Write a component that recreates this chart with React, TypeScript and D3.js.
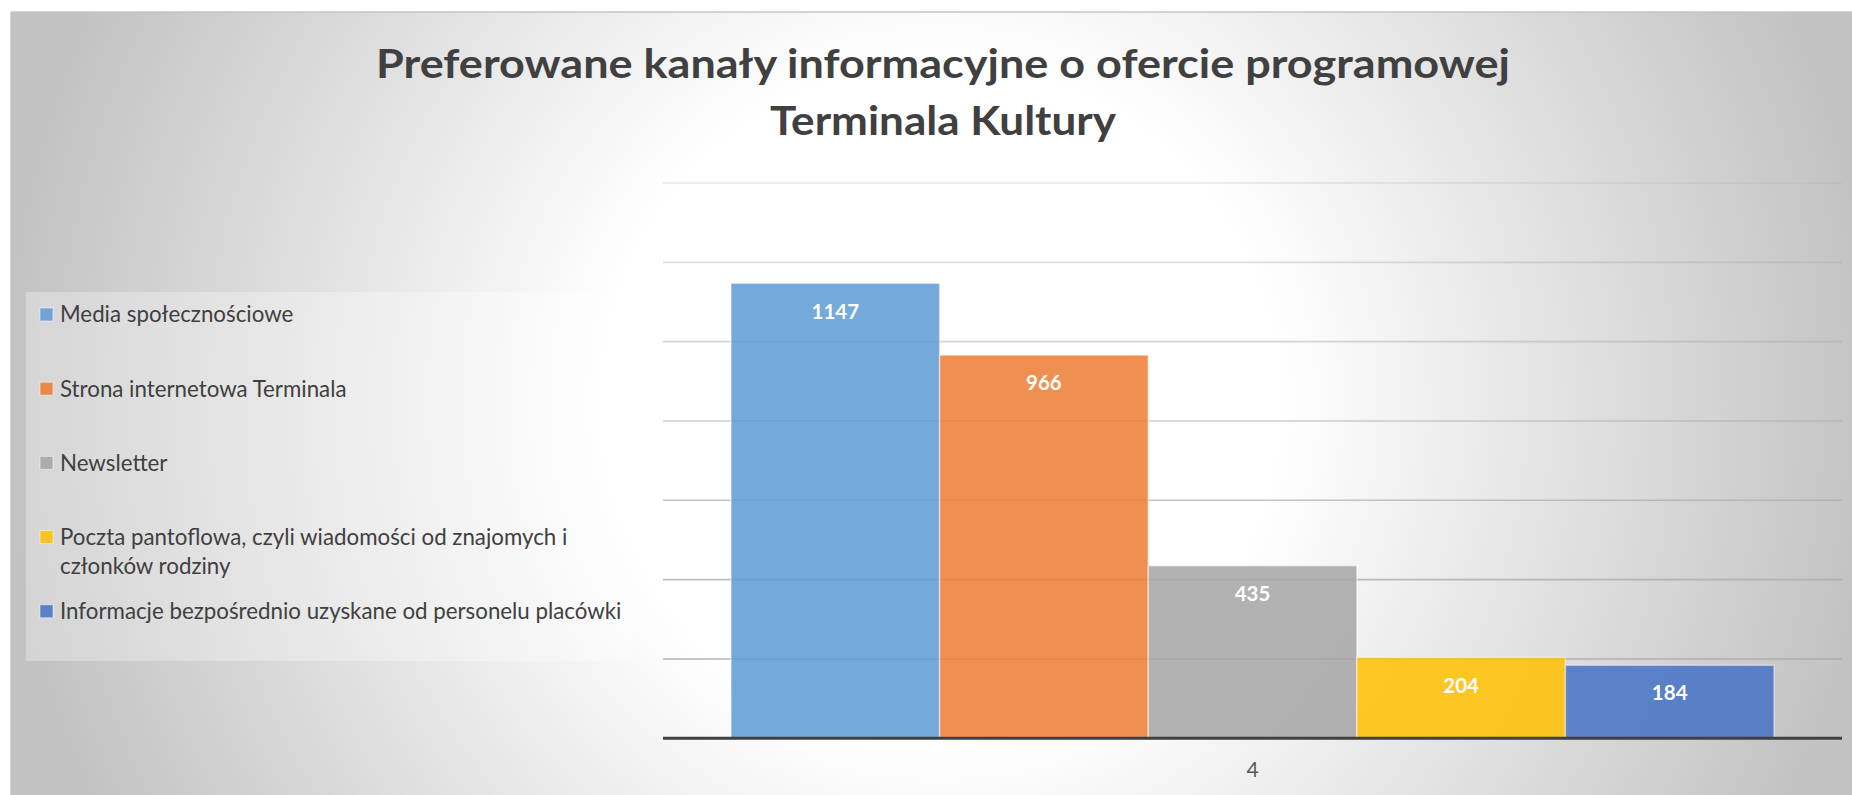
import React from "react";
import * as d3 from "d3";

const titleLines = ["Preferowane kanały informacyjne o ofercie programowej", "Terminala Kultury"];
const categories = ["4"];
const seriesNames = [
  "Media społecznościowe",
  "Strona internetowa Terminala",
  "Newsletter",
  "Poczta pantoflowa, czyli wiadomości od znajomych i członków rodziny",
  "Informacje bezpośrednio uzyskane od personelu placówki",
];
const legendLines = [
  ["Media społecznościowe"],
  ["Strona internetowa Terminala"],
  ["Newsletter"],
  ["Poczta pantoflowa, czyli wiadomości od znajomych i", "członków rodziny"],
  ["Informacje bezpośrednio uzyskane od personelu placówki"],
];
const seriesValues = [1147, 966, 435, 204, 184];
const seriesColors = ["#5B9BD5", "#ED7D31", "#A5A5A5", "#FFC000", "#4472C4"];
const gridValues = [0, 200, 400, 600, 800, 1000, 1200, 1400];

const W = 1852;
const H = 795;
const FONT = "Lato, 'Open Sans', sans-serif";

export default function App() {
  const plot = { left: 663, right: 1842, top: 183, bottom: 738.3 };
  const y = d3.scaleLinear().domain([0, 1400]).range([plot.bottom, plot.top]);
  const xCat = d3
    .scaleBand<string>()
    .domain(categories)
    .range([plot.left, plot.right])
    .paddingInner(0)
    .paddingOuter(0.0652);
  const xSer = d3
    .scaleBand<string>()
    .domain(seriesNames)
    .range([0, xCat.bandwidth()])
    .padding(0);

  const legendX = 26;
  const legendY = 292;
  const legendW = 607;
  const legendH = 369;
  const rowStart = 314.5;
  const rowStep = 74.2;
  const lineStep = 29;

  return (
    <svg
      width={W}
      height={H}
      style={{ position: "absolute", left: 0, top: 0, display: "block" }}
      xmlns="http://www.w3.org/2000/svg"
    >
      <defs>
        <radialGradient id="bg" gradientUnits="userSpaceOnUse" cx={940} cy={403} r={940} fx={940} fy={403}>
          <stop offset="0" stopColor="#ffffff" />
          <stop offset="0.36" stopColor="#ffffff" />
          <stop offset="1" stopColor="#c2c2c2" />
        </radialGradient>
      </defs>
      <rect x={0} y={0} width={W} height={H} fill="#ffffff" />
      <rect x={11} y={12} width={W - 11} height={H - 12} fill="url(#bg)" />
      <line x1={11} x2={W} y1={12} y2={12} stroke="#c4c4c4" strokeWidth={1.5} />
      <line x1={11} x2={11} y1={12} y2={H} stroke="#c4c4c4" strokeWidth={1.5} />

      {/* title */}
      {titleLines.map((t, i) => (
        <text
          key={i}
          x={943}
          y={78 + i * 57}
          textAnchor="middle"
          fontFamily={FONT}
          fontWeight={700}
          fontSize={40}
          fill="#404040"
          textLength={i === 0 ? 1134 : 346}
          lengthAdjust="spacingAndGlyphs"
        >
          {t}
        </text>
      ))}

      {/* gridlines */}
      {gridValues
        .filter((v) => v > 0)
        .map((v) => (
          <line
            key={v}
            x1={plot.left}
            x2={plot.right}
            y1={y(v)}
            y2={y(v)}
            stroke="#ababab"
            strokeOpacity={0.3 + 0.7 * (1 - v / 1400)}
            strokeWidth={1.6}
          />
        ))}

      {/* bars */}
      {categories.map((c) => (
        <g key={c} transform={`translate(${xCat(c)},0)`}>
          {seriesNames.map((s, i) => {
            const x0 = xSer(s) as number;
            const w = xSer.bandwidth();
            const top = y(seriesValues[i]);
            return (
              <g key={s}>
                <rect
                  x={x0}
                  y={top}
                  width={w}
                  height={plot.bottom - top}
                  fill={seriesColors[i]}
                  fillOpacity={0.85}
                  stroke="#ffffff"
                  strokeOpacity={0.45}
                  strokeWidth={1.5}
                />
                <text
                  x={x0 + w / 2}
                  y={top + 28}
                  dy="0.35em"
                  textAnchor="middle"
                  fontFamily={FONT}
                  fontWeight={700}
                  fontSize={20.5}
                  fill="#ffffff"
                >
                  {seriesValues[i]}
                </text>
              </g>
            );
          })}
        </g>
      ))}

      {/* axis */}
      <line x1={plot.left} x2={plot.right} y1={plot.bottom} y2={plot.bottom} stroke="#404040" strokeWidth={3} />
      {categories.map((c) => (
        <text
          key={c}
          x={(xCat(c) as number) + xCat.bandwidth() / 2}
          y={770}
          dy="0.35em"
          textAnchor="middle"
          fontFamily={FONT}
          fontSize={21}
          fill="#595959"
        >
          {c}
        </text>
      ))}

      {/* legend */}
      <rect x={legendX} y={legendY} width={legendW} height={legendH} fill="#ffffff" fillOpacity={0.3} />
      {legendLines.map((lines, i) => {
        const cy = rowStart + i * rowStep;
        return (
          <g key={i}>
            <rect
              x={40}
              y={cy - 6.5}
              width={13}
              height={13}
              fill={seriesColors[i]}
              fillOpacity={0.85}
              stroke="#ffffff"
              strokeOpacity={0.5}
              strokeWidth={1}
            />
            {lines.map((ln, j) => (
              <text
                key={j}
                x={60}
                y={cy + j * lineStep}
                dy="0.35em"
                fontFamily={FONT}
                fontSize={22.3}
                fill="#404040"
              >
                {ln}
              </text>
            ))}
          </g>
        );
      })}
    </svg>
  );
}
